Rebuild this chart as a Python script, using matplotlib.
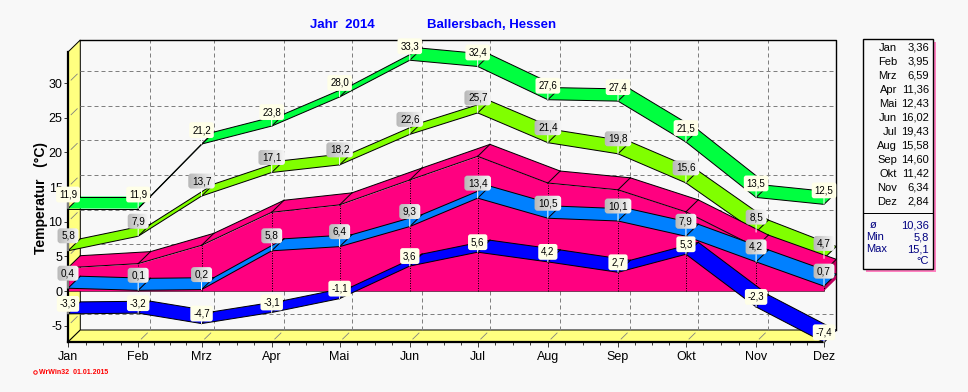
import matplotlib
matplotlib.use('Agg')
import matplotlib.pyplot as plt
import numpy as np
from matplotlib.patches import FancyBboxPatch, Polygon, Rectangle
from matplotlib.text import Text
from matplotlib.transforms import IdentityTransform

plt.rcParams['font.family'] = ['Liberation Sans', 'DejaVu Sans']

months = ['Jan', 'Feb', 'Mrz', 'Apr', 'Mai', 'Jun', 'Jul', 'Aug', 'Sep', 'Okt', 'Nov', 'Dez']
day_of_year = [0, 31, 59, 90, 120, 151, 181, 212, 243, 273, 304, 334]

t_max = [11.9, 11.9, 21.2, 23.8, 28.0, 33.3, 32.4, 27.6, 27.4, 21.5, 13.5, 12.5]
t_mean_max = [5.8, 7.9, 13.7, 17.1, 18.2, 22.6, 25.7, 21.4, 19.8, 15.6, 8.5, 4.7]
t_mean = [3.36, 3.95, 6.59, 11.36, 12.43, 16.02, 19.43, 15.58, 14.60, 11.42, 6.34, 2.84]
t_mean_min = [0.4, 0.1, 0.2, 5.8, 6.4, 9.3, 13.4, 10.5, 10.1, 7.9, 4.2, 0.7]
t_min = [-3.3, -3.2, -4.7, -3.1, -1.1, 3.6, 5.6, 4.2, 2.7, 5.3, -2.3, -7.4]

y_ticks = [-5, 0, 5, 10, 15, 20, 25, 30]
stats = [('ø', '10,36'), ('Min', '5,8'), ('Max', '15,1')]

BG = '#F8F8F8'
YELLOW = '#FFFF80'
W, H = 968, 392
LW = 0.72  # one pixel

# pixel frame of the front plane
LEFT, RIGHT, TOP, BOTTOM = 68, 824, 52, 342
PX_Y = 6.93
PX_X = (RIGHT - LEFT) / day_of_year[-1]
DX = 12.3 / PX_X   # depth of the 3D box in data units
DY = 12 / PX_Y

fig = plt.figure(figsize=(W / 100, H / 100), dpi=100, facecolor=BG)
ax = fig.add_axes([LEFT / W, 1 - BOTTOM / H, (RIGHT - LEFT) / W, (BOTTOM - TOP) / H])
ax.patch.set_visible(False)
ax.set_xlim(0, day_of_year[-1])
ax.set_ylim(-(BOTTOM - 291) / PX_Y, (291 - TOP) / PX_Y)
y0, y1 = ax.get_ylim()
x_end = day_of_year[-1]

# walls
ax.add_patch(Polygon([(0, y0), (DX, y0 + DY), (DX, y1 + DY), (0, y1)], fc=YELLOW, ec='black', lw=LW,
                     clip_on=False, zorder=1))
ax.add_patch(Polygon([(0, y0), (DX, y0 + DY), (x_end + DX, y0 + DY), (x_end, y0)], fc=YELLOW, ec='black', lw=LW,
                     clip_on=False, zorder=1))
grid = dict(color='#808080', lw=LW, dashes=(4, 3), clip_on=False, zorder=1.5)
for v in y_ticks:
    ax.plot([DX, x_end + DX], [v + DY, v + DY], **grid)
    ax.plot([DX * 0.25, DX * 0.75], [v + DY * 0.25, v + DY * 0.75], color='#808080', lw=0.6, clip_on=False, zorder=1.5)
for d in day_of_year[1:-1]:
    ax.plot([d + DX, d + DX], [y0 + DY, y1 + DY], **grid)
    ax.plot([d + DX * 0.25, d + DX * 0.75], [y0 + DY * 0.25, y0 + DY * 0.75], color='#808080', lw=0.6,
            clip_on=False, zorder=1.5)
ax.plot([DX, x_end + DX, x_end + DX], [y1 + DY, y1 + DY, y0 + DY], color='black', lw=1, clip_on=False, zorder=1.6)


def ribbon(values, color, z):
    for i in range(len(values) - 1):
        xa, xb = day_of_year[i], day_of_year[i + 1]
        va, vb = values[i], values[i + 1]
        ax.add_patch(Polygon([(xa, va), (xb, vb), (xb + DX, vb + DY), (xa + DX, va + DY)], fc=color, ec='none',
                             clip_on=False, zorder=z))
        ax.plot([xa, xb], [va, vb], color='black', lw=LW, clip_on=False, zorder=z + 0.1)
        ax.plot([xa + DX, xb + DX], [va + DY, vb + DY], color='black', lw=LW, clip_on=False, zorder=z + 0.1)
    for d, v in zip(day_of_year, values):
        ax.plot([d, d + DX], [v, v + DY], color='black', lw=LW, clip_on=False, zorder=z + 0.1)


ribbon(t_max, '#00FF40', 2)
ribbon(t_mean_max, '#80FF00', 3)

# mean temperature as filled block down to zero
ax.fill_between(day_of_year, 0, t_mean, color='#FF0080', lw=0, zorder=4, clip_on=False)
ax.add_patch(Polygon([(x_end, 0), (x_end + DX, DY), (x_end + DX, t_mean[-1] + DY), (x_end, t_mean[-1])],
                     fc='#C00060', ec='none', clip_on=False, zorder=4))
ribbon(t_mean, '#FF0080', 4)
ax.plot([0, x_end], [0, 0], color='black', lw=LW, ls=(0, (1, 1)), clip_on=False, zorder=4.2)
for d, v in zip(day_of_year[1:], t_mean[1:]):
    ax.plot([d, d], [0, v], color='black', lw=LW, ls=(0, (1, 1.5)), clip_on=False, zorder=4.2)

ribbon(t_mean_min, '#0080FF', 5)
ribbon(t_min, '#0000FF', 6)

# axes, ticks
for side in ['top', 'right']:
    ax.spines[side].set_visible(False)
for side in ['left', 'bottom']:
    ax.spines[side].set_linewidth(1.6)
    ax.spines[side].set_zorder(7)
ax.set_xticks(day_of_year)
ax.set_xticklabels(months, fontsize=9)
minor = []
for a, b in zip(day_of_year[:-1], day_of_year[1:]):
    minor += [a + (b - a) * k / 4 for k in (1, 2, 3)]
ax.set_xticks(minor, minor=True)
ax.set_yticks(y_ticks)
ax.set_yticklabels([str(v) for v in y_ticks], fontsize=9)
ax.tick_params(axis='x', which='major', length=3.5, width=LW, color='#404040', pad=3)
ax.tick_params(axis='x', which='minor', length=2, width=LW, color='#404040')
ax.tick_params(axis='y', length=3, width=LW, color='#404040', pad=1)
ax.set_ylabel('Temperatur   (°C)', fontsize=10, fontweight='bold')
ax.yaxis.set_label_coords(-0.027, 0.497)

fig.canvas.draw()
renderer = fig.canvas.get_renderer()


def value_labels(values, fill, offset_px, fontsize, gradient=False):
    for d, v in zip(day_of_year, values):
        t = ax.annotate(f'{v:.1f}'.replace('.', ','), xy=(d, v), xytext=(0, offset_px * 0.72),
                        textcoords='offset points', ha='center', va='center', fontsize=fontsize, color='black',
                        annotation_clip=False, zorder=11,
                        bbox=None if gradient else dict(boxstyle='round,pad=0.3,rounding_size=0.25', fc=fill,
                                                        ec='none'),
                        arrowprops=dict(arrowstyle='-', color='white', lw=LW, shrinkA=0, shrinkB=0))
        if gradient:
            # gray boxes fade from left to right
            t.update_positions(renderer)
            bb = Text.get_window_extent(t, renderer)
            x_a, x_b = bb.x0 - 1, bb.x1 + 1
            y_a, y_b = bb.y0, bb.y1
            inv = ax.transData.inverted()
            (ex0, ey0), (ex1, ey1) = inv.transform([(x_a - 3, y_a - 3), (x_b + 3, y_b + 3)])
            im = ax.imshow(np.linspace(0.72, 0.97, 32).reshape(1, -1), extent=(ex0, ex1, ey0, ey1), cmap='gray',
                           vmin=0, vmax=1, aspect='auto', zorder=10.5)
            box = FancyBboxPatch((x_a, y_a), x_b - x_a, y_b - y_a, boxstyle='round,pad=2.5,rounding_size=3',
                                 transform=IdentityTransform())
            im.set_clip_box(fig.bbox)
            im.set_clip_path(box)


value_labels(t_max, '#FFFFE8', 14, 7)
value_labels(t_mean_max, None, 15, 7.2, gradient=True)
value_labels(t_mean_min, None, 15, 7.2, gradient=True)
value_labels(t_min, '#FFFFE8', 10, 7)
ax.set_xlim(0, day_of_year[-1])
ax.set_ylim(y0, y1)


def px_text(x, y, s, **kw):
    fig.text(x / W, 1 - y / H, s, **kw)


# title
px_text(310, 25, 'Jahr  2014', fontsize=9.5, fontweight='bold', color='#0000FF', va='center', ha='left')
px_text(427, 25, 'Ballersbach, Hessen', fontsize=9.5, fontweight='bold', color='#0000FF', va='center', ha='left')

# footer
px_text(39, 372, 'WrWin32  01.01.2015', fontsize=5, fontweight='bold', color='#FF0000', va='center', ha='left')
fig.add_artist(plt.Line2D([35 / W], [1 - 372 / H], marker='o', ms=2.5, mfc='none', mec='#FF0000', mew=0.7, ls='none'))

# legend box on the right
fig.add_artist(Rectangle((866 / W, 1 - 272 / H), 70 / W, 230 / H, transform=fig.transFigure, fc='#FF80C0', ec='none'))
fig.add_artist(Rectangle((863 / W, 1 - 269 / H), 70 / W, 230 / H, transform=fig.transFigure, fc=BG, ec='black', lw=1))
fig.add_artist(plt.Line2D([863 / W, 933 / W], [1 - 213 / H, 1 - 213 / H], color='black', lw=LW))
for i, (m, v) in enumerate(zip(months, t_mean)):
    y = 48 + i * 14
    px_text(897, y, m, fontsize=8, ha='right', va='center', color='black')
    px_text(929, y, f'{v:.2f}'.replace('.', ','), fontsize=8, ha='right', va='center', color='black')
NAVY = '#000080'
for i, (name, val) in enumerate(stats):
    y = 225 + i * 12
    if name == 'ø':
        px_text(873, y, name, fontsize=8, ha='center', va='center', color=NAVY)
    else:
        px_text(866, y, name, fontsize=8, ha='left', va='center', color=NAVY)
    px_text(929, y, val, fontsize=8, ha='right', va='center', color=NAVY)
px_text(929, 261, '°C', fontsize=8, ha='right', va='center', color=NAVY)

# window edge on the right
fig.add_artist(plt.Line2D([967.5 / W, 967.5 / W], [0, 1], color='#D0D0D0', lw=LW))

fig.savefig('out.png', dpi=100, facecolor=BG)
